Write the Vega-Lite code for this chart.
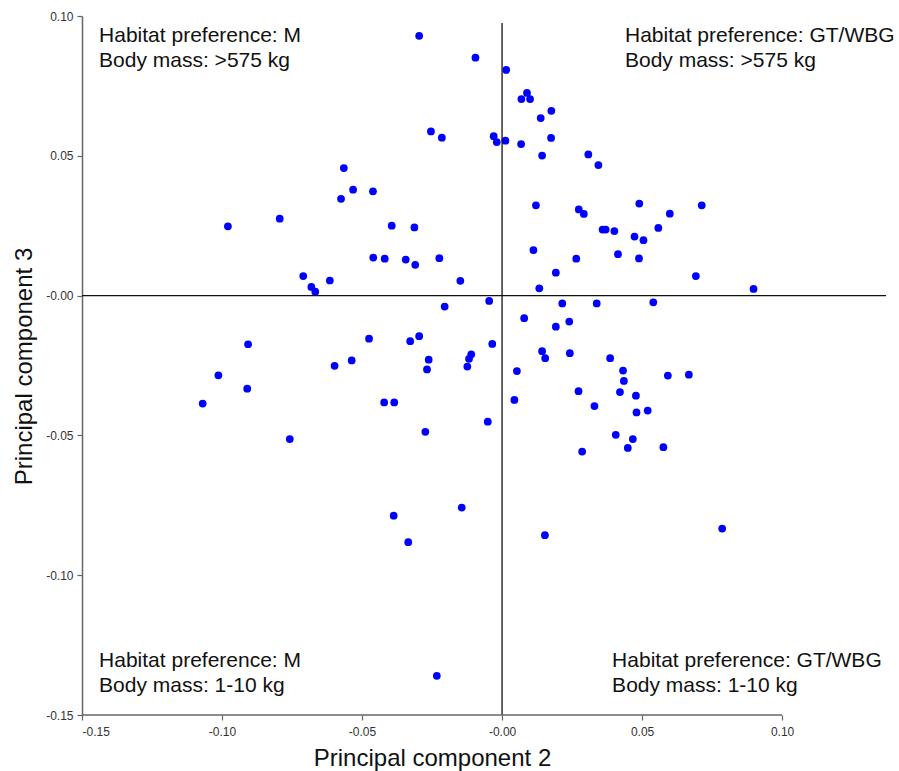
{
  "$schema": "https://vega.github.io/schema/vega-lite/v6.json",
  "autosize": {"type": "none"},
  "width": 804,
  "height": 699,
  "padding": {"left": 82, "top": 16, "right": 13, "bottom": 56},
  "background": "white",
  "config": {
    "view": {"stroke": null},
    "font": "Liberation Sans",
    "axis": {"labelFont": "Liberation Sans", "titleFont": "Liberation Sans"}
  },
  "datasets": {
    "points": [
      {"pc2": -0.0296, "pc3": 0.0929}, {"pc2": -0.0095, "pc3": 0.0851}, {"pc2": 0.0015, "pc3": 0.0807},
      {"pc2": 0.0089, "pc3": 0.0725}, {"pc2": 0.0069, "pc3": 0.0703}, {"pc2": 0.0100, "pc3": 0.0703},
      {"pc2": 0.0176, "pc3": 0.0661}, {"pc2": 0.0138, "pc3": 0.0635}, {"pc2": -0.0254, "pc3": 0.0587},
      {"pc2": -0.0215, "pc3": 0.0565}, {"pc2": -0.0030, "pc3": 0.0570}, {"pc2": -0.0019, "pc3": 0.0549},
      {"pc2": 0.0012, "pc3": 0.0554}, {"pc2": 0.0068, "pc3": 0.0542}, {"pc2": 0.0175, "pc3": 0.0564},
      {"pc2": 0.0143, "pc3": 0.0501}, {"pc2": 0.0308, "pc3": 0.0505}, {"pc2": 0.0344, "pc3": 0.0467},
      {"pc2": -0.0565, "pc3": 0.0456}, {"pc2": -0.0532, "pc3": 0.0379}, {"pc2": -0.0461, "pc3": 0.0373},
      {"pc2": -0.0575, "pc3": 0.0346}, {"pc2": -0.0794, "pc3": 0.0275}, {"pc2": -0.0979, "pc3": 0.0248},
      {"pc2": -0.0394, "pc3": 0.0250}, {"pc2": -0.0313, "pc3": 0.0244}, {"pc2": 0.0121, "pc3": 0.0323},
      {"pc2": 0.0274, "pc3": 0.0308}, {"pc2": 0.0292, "pc3": 0.0292}, {"pc2": 0.0359, "pc3": 0.0236},
      {"pc2": 0.0370, "pc3": 0.0236}, {"pc2": 0.0401, "pc3": 0.0231}, {"pc2": 0.0490, "pc3": 0.0329},
      {"pc2": 0.0599, "pc3": 0.0293}, {"pc2": 0.0713, "pc3": 0.0323}, {"pc2": 0.0558, "pc3": 0.0242},
      {"pc2": 0.0473, "pc3": 0.0211}, {"pc2": 0.0505, "pc3": 0.0198}, {"pc2": 0.0414, "pc3": 0.0148},
      {"pc2": 0.0489, "pc3": 0.0133}, {"pc2": 0.0112, "pc3": 0.0163}, {"pc2": 0.0265, "pc3": 0.0132},
      {"pc2": 0.0192, "pc3": 0.0082}, {"pc2": 0.0133, "pc3": 0.0026}, {"pc2": -0.0460, "pc3": 0.0136},
      {"pc2": -0.0419, "pc3": 0.0132}, {"pc2": -0.0344, "pc3": 0.0129}, {"pc2": -0.0310, "pc3": 0.0110},
      {"pc2": -0.0224, "pc3": 0.0134}, {"pc2": -0.0710, "pc3": 0.0070}, {"pc2": -0.0681, "pc3": 0.0031},
      {"pc2": -0.0667, "pc3": 0.0014}, {"pc2": -0.0615, "pc3": 0.0054}, {"pc2": -0.0149, "pc3": 0.0053},
      {"pc2": 0.0692, "pc3": 0.0070}, {"pc2": 0.0898, "pc3": 0.0024}, {"pc2": -0.0046, "pc3": -0.0019},
      {"pc2": 0.0215, "pc3": -0.0028}, {"pc2": 0.0338, "pc3": -0.0028}, {"pc2": 0.0540, "pc3": -0.0024},
      {"pc2": -0.0205, "pc3": -0.0039}, {"pc2": 0.0079, "pc3": -0.0081}, {"pc2": 0.0192, "pc3": -0.0111},
      {"pc2": 0.0240, "pc3": -0.0093}, {"pc2": -0.0475, "pc3": -0.0154}, {"pc2": -0.0328, "pc3": -0.0163},
      {"pc2": -0.0296, "pc3": -0.0145}, {"pc2": -0.0035, "pc3": -0.0173}, {"pc2": -0.0262, "pc3": -0.0229},
      {"pc2": -0.0268, "pc3": -0.0264}, {"pc2": -0.0110, "pc3": -0.0210}, {"pc2": -0.0118, "pc3": -0.0226},
      {"pc2": -0.0124, "pc3": -0.0254}, {"pc2": -0.0537, "pc3": -0.0232}, {"pc2": -0.0598, "pc3": -0.0251},
      {"pc2": 0.0143, "pc3": -0.0199}, {"pc2": 0.0154, "pc3": -0.0224}, {"pc2": 0.0242, "pc3": -0.0206},
      {"pc2": 0.0053, "pc3": -0.0270}, {"pc2": 0.0273, "pc3": -0.0342}, {"pc2": 0.0044, "pc3": -0.0373},
      {"pc2": 0.0330, "pc3": -0.0395}, {"pc2": -0.0421, "pc3": -0.0382}, {"pc2": -0.0385, "pc3": -0.0382},
      {"pc2": -0.0051, "pc3": -0.0451}, {"pc2": -0.0274, "pc3": -0.0487}, {"pc2": 0.0286, "pc3": -0.0558},
      {"pc2": -0.0144, "pc3": -0.0758}, {"pc2": -0.0387, "pc3": -0.0787}, {"pc2": -0.0335, "pc3": -0.0882},
      {"pc2": 0.0153, "pc3": -0.0857}, {"pc2": -0.0233, "pc3": -0.1360}, {"pc2": -0.0907, "pc3": -0.0174},
      {"pc2": -0.1013, "pc3": -0.0285}, {"pc2": -0.0910, "pc3": -0.0333}, {"pc2": -0.1069, "pc3": -0.0386},
      {"pc2": -0.0758, "pc3": -0.0513}, {"pc2": 0.0786, "pc3": -0.0833}, {"pc2": 0.0386, "pc3": -0.0224},
      {"pc2": 0.0432, "pc3": -0.0268}, {"pc2": 0.0435, "pc3": -0.0305}, {"pc2": 0.0421, "pc3": -0.0345},
      {"pc2": 0.0478, "pc3": -0.0358}, {"pc2": 0.0592, "pc3": -0.0286}, {"pc2": 0.0667, "pc3": -0.0283},
      {"pc2": 0.0480, "pc3": -0.0418}, {"pc2": 0.0520, "pc3": -0.0411}, {"pc2": 0.0406, "pc3": -0.0498},
      {"pc2": 0.0467, "pc3": -0.0513}, {"pc2": 0.0449, "pc3": -0.0545}, {"pc2": 0.0576, "pc3": -0.0542}
    ],
    "zerolines": [
      {"x1": -0.15, "x2": 0.1371, "y1": 0, "y2": 0},
      {"x1": 0, "x2": 0, "y1": -0.15, "y2": 0.0975}
    ],
    "xaxisline": [
      {"x1": -0.15, "x2": 0.10, "y1": -0.15, "y2": -0.15}
    ],
    "notes": [
      {"x": -0.1439, "y": 0.0907, "label": "Habitat preference: M\nBody mass: >575 kg"},
      {"x": 0.0439, "y": 0.0907, "label": "Habitat preference: GT/WBG\nBody mass: >575 kg"},
      {"x": -0.1439, "y": -0.1330, "label": "Habitat preference: M\nBody mass: 1-10 kg"},
      {"x": 0.0393, "y": -0.1330, "label": "Habitat preference: GT/WBG\nBody mass: 1-10 kg"}
    ]
  },
  "layer": [
    {
      "data": {"name": "points"},
      "mark": {"type": "circle", "size": 60, "color": "#0000FF", "opacity": 1},
      "encoding": {
        "x": {
          "field": "pc2", "type": "quantitative",
          "title": "Principal component 2",
          "scale": {"domain": [-0.15, 0.1371], "nice": false, "zero": false},
          "axis": {
            "values": [-0.15, -0.10, -0.05, 0, 0.05, 0.10],
            "labelExpr": "datum.value == 0 ? '-0.00' : (datum.value < 0 ? '-' + format(-datum.value, '.2f') : format(datum.value, '.2f'))",
            "domain": false, "grid": false,
            "ticks": true, "tickSize": 5, "tickColor": "#666666", "tickWidth": 1.2,
            "labelFontSize": 12, "labelColor": "#333333", "labelPadding": 6,
            "titleFontSize": 24, "titleFontWeight": "normal", "titleColor": "#111111",
            "titleX": 350, "titleY": 50, "titleBaseline": "alphabetic", "titleAlign": "center"
          }
        },
        "y": {
          "field": "pc3", "type": "quantitative",
          "title": "Principal component 3",
          "scale": {"domain": [-0.15, 0.10], "nice": false, "zero": false},
          "axis": {
            "values": [-0.15, -0.10, -0.05, 0, 0.05, 0.10],
            "labelExpr": "datum.value == 0 ? '-0.00' : (datum.value < 0 ? '-' + format(-datum.value, '.2f') : format(datum.value, '.2f'))",
            "domain": true, "domainColor": "#666666", "domainWidth": 1.5, "grid": false,
            "ticks": true, "tickSize": 5, "tickColor": "#666666", "tickWidth": 1.2,
            "labelFontSize": 12, "labelColor": "#333333", "labelPadding": 4,
            "titleFontSize": 24, "titleFontWeight": "normal", "titleColor": "#111111",
            "titleAngle": -90, "titleX": -51, "titleY": 350, "titleBaseline": "alphabetic", "titleAlign": "center"
          }
        }
      }
    },
    {
      "data": {"name": "zerolines"},
      "mark": {"type": "rule", "color": "#111111", "strokeWidth": 1.3},
      "encoding": {
        "x": {"field": "x1", "type": "quantitative", "title": "Principal component 2"},
        "x2": {"field": "x2"},
        "y": {"field": "y1", "type": "quantitative", "title": "Principal component 3"},
        "y2": {"field": "y2"}
      }
    },
    {
      "data": {"name": "xaxisline"},
      "mark": {"type": "rule", "color": "#666666", "strokeWidth": 1.5},
      "encoding": {
        "x": {"field": "x1", "type": "quantitative", "title": "Principal component 2"},
        "x2": {"field": "x2"},
        "y": {"field": "y1", "type": "quantitative", "title": "Principal component 3"},
        "y2": {"field": "y2"}
      }
    },
    {
      "data": {"name": "notes"},
      "mark": {"type": "text", "align": "left", "baseline": "alphabetic", "fontSize": 21, "font": "Liberation Sans", "color": "#111111", "lineBreak": "\n", "lineHeight": 24.5},
      "encoding": {
        "x": {"field": "x", "type": "quantitative", "title": "Principal component 2"},
        "y": {"field": "y", "type": "quantitative", "title": "Principal component 3"},
        "text": {"field": "label"}
      }
    }
  ]
}
